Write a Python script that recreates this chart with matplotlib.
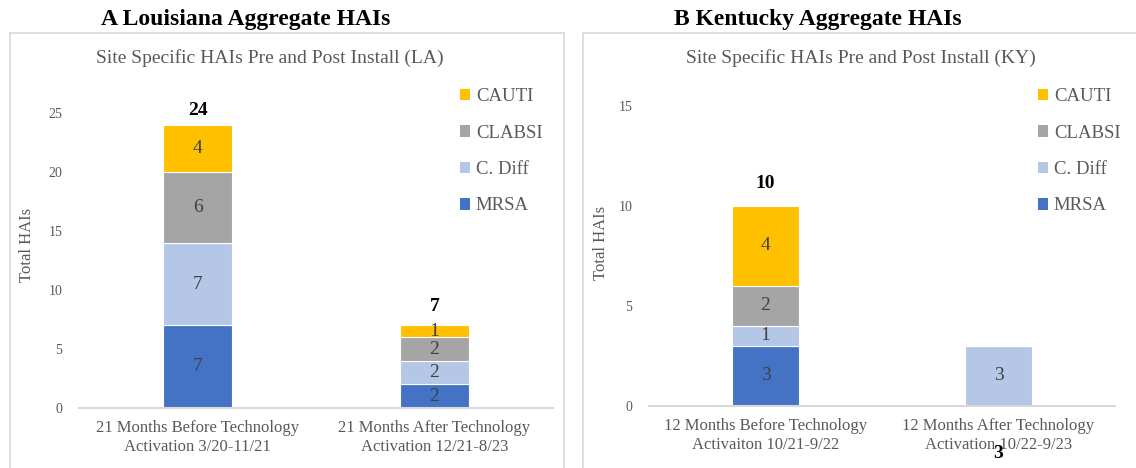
import matplotlib
matplotlib.use("Agg")
import matplotlib.pyplot as plt
from matplotlib.patches import Patch, Rectangle

plt.rcParams['font.family'] = ['Liberation Serif', 'DejaVu Serif']

series = ['MRSA', 'C. Diff', 'CLABSI', 'CAUTI']
colors = ['#4472C4', '#B4C7E7', '#A5A5A5', '#FFC000']

la_categories = ['21 Months Before Technology\nActivation 3/20-11/21',
                 '21 Months After Technology\nActivation 12/21-8/23']
la_mrsa = [7, 2]
la_cdiff = [7, 2]
la_clabsi = [6, 2]
la_cauti = [4, 1]

ky_categories = ['12 Months Before Technology\nActivaiton 10/21-9/22',
                 '12 Months After Technology\nActivation 10/22-9/23']
ky_mrsa = [3, 0]
ky_cdiff = [1, 3]
ky_clabsi = [2, 0]
ky_cauti = [4, 0]

W, H = 1136, 468
fig = plt.figure(figsize=(W / 100, H / 100), dpi=100)


def fx(px):
    return px / W


def fy(py):
    return 1 - py / H


GRAY = '#595959'


def draw_panel(rect, categories, data, ymax, yticks, total_offsets):
    ax = fig.add_axes(rect)
    x = list(range(len(categories)))
    bottoms = [0] * len(categories)
    for vals, c in zip(data, colors):
        ax.bar(x, vals, width=0.29, bottom=bottoms, color=c,
               edgecolor='white', linewidth=0.8)
        for xi, v, b in zip(x, vals, bottoms):
            if v > 0:
                ax.text(xi, b + v / 2, str(v), ha='center', va='center',
                        fontsize=14, color='#404040')
        bottoms = [b + v for b, v in zip(bottoms, vals)]
    # totals (Excel put the KY post total below the axis)
    for xi, tot, off in zip(x, bottoms, total_offsets):
        ax.text(xi, tot + off, str(tot), ha='center', va='center',
                fontsize=14, fontweight='bold', color='black', clip_on=False)
    ax.set_xlim(-0.5, len(categories) - 0.5)
    ax.set_ylim(0, ymax)
    ax.set_yticks(yticks)
    ax.set_xticks(x)
    ax.set_xticklabels(categories, fontsize=12, color=GRAY, linespacing=1.2)
    ax.tick_params(axis='both', length=0)
    ax.tick_params(axis='x', pad=9)
    ax.tick_params(axis='y', labelsize=10, labelcolor=GRAY, pad=12)
    for s in ['top', 'right', 'left']:
        ax.spines[s].set_visible(False)
    ax.spines['bottom'].set_color('#D9D9D9')
    ax.spines['bottom'].set_linewidth(1.5)
    return ax


# panel boxes
fig.patches.append(Rectangle((fx(9.5), fy(470)), fx(564) - fx(9.5), fy(33) - fy(470),
                             transform=fig.transFigure, fill=False,
                             edgecolor='#D9D9D9', linewidth=1.2))
fig.patches.append(Rectangle((fx(583), fy(470)), fx(1140) - fx(583), fy(33) - fy(470),
                             transform=fig.transFigure, fill=False,
                             edgecolor='#D9D9D9', linewidth=1.2))

# Louisiana
draw_panel([fx(79), fy(408), fx(553) - fx(79), fy(113) - fy(408)],
           la_categories, [la_mrsa, la_cdiff, la_clabsi, la_cauti],
           25, [0, 5, 10, 15, 20, 25], [1.25, 1.6])

# Kentucky
draw_panel([fx(649), fy(406), fx(1115) - fx(649), fy(106) - fy(406)],
           ky_categories, [ky_mrsa, ky_cdiff, ky_clabsi, ky_cauti],
           15, [0, 5, 10, 15], [1.15, -5.35])

fig.text(fx(246), fy(25), 'A Louisiana Aggregate HAIs', ha='center', va='baseline',
         fontsize=17, fontweight='bold')
fig.text(fx(818), fy(25), 'B Kentucky Aggregate HAIs', ha='center', va='baseline',
         fontsize=17, fontweight='bold')
fig.text(fx(270), fy(63), 'Site Specific HAIs Pre and Post Install (LA)', ha='center',
         va='baseline', fontsize=14, color=GRAY)
fig.text(fx(861), fy(63), 'Site Specific HAIs Pre and Post Install (KY)', ha='center',
         va='baseline', fontsize=14, color=GRAY)
fig.text(fx(27), fy(245), 'Total HAIs', rotation=90, ha='center', va='center',
         fontsize=12, color=GRAY)
fig.text(fx(601), fy(243), 'Total HAIs', rotation=90, ha='center', va='center',
         fontsize=12, color=GRAY)

handles = [Patch(facecolor=c, label=s) for s, c in zip(series, colors)][::-1]
for lx, ly in [(460, 88), (1038, 88)]:
    fig.legend(handles=handles, loc='upper left', bbox_to_anchor=(fx(lx), fy(ly)),
               frameon=False, fontsize=13.5, handlelength=0.55, handleheight=0.55,
               handletextpad=0.3, labelspacing=1.04, borderpad=0, borderaxespad=0,
               labelcolor=GRAY)

fig.savefig('out.png', dpi=100)
